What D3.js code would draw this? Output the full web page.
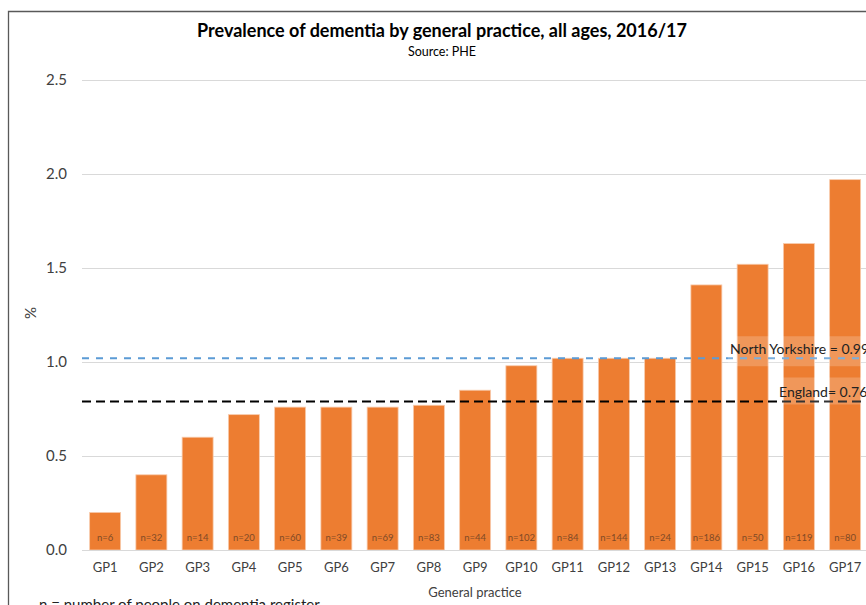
<!DOCTYPE html>
<html>
<head>
<meta charset="utf-8">
<script src="https://cdn.jsdelivr.net/npm/d3@7"></script>
<style>
  html, body { margin: 0; padding: 0; background: #fff; }
  svg { display: block; font-family: Lato, "Open Sans", sans-serif; }
</style>
</head>
<body>
<div id="chart"></div>
<script>
// Chart data.
const practices = ["GP1", "GP2", "GP3", "GP4", "GP5", "GP6", "GP7", "GP8", "GP9",
  "GP10", "GP11", "GP12", "GP13", "GP14", "GP15", "GP16", "GP17"];
const prevalence = [0.20, 0.40, 0.60, 0.72, 0.76, 0.76, 0.76, 0.77, 0.85,
  0.98, 1.02, 1.02, 1.02, 1.41, 1.52, 1.63, 1.97];
const registerCounts = [6, 32, 14, 20, 60, 39, 69, 83, 44, 102, 84, 144, 24, 186, 50, 119, 80];
const yTicks = [0, 0.5, 1.0, 1.5, 2.0, 2.5];

// Reference lines (level = where the line is drawn, label = text shown).
const referenceNames = ["North Yorkshire", "England"];
const referenceLevels = [1.02, 0.79];
const referenceLabels = ["North Yorkshire = 0.99%", "England= 0.76%"];
const referenceColors = ["#5B9BD5", "#000000"];

const width = 866;
const height = 605;
const margin = { top: 80, right: -2, bottom: 55, left: 82 };

const svg = d3.select("#chart")
  .append("svg")
  .attr("width", width)
  .attr("height", height);

// Outer frame (only the top and left edges are visible in the crop).
svg.append("path")
  .attr("d", `M8.5,${height} V11.5 H${width}`)
  .attr("fill", "none")
  .attr("stroke", "#595959")
  .attr("stroke-width", 1.3);

// Title.
svg.append("text")
  .attr("x", 442)
  .attr("y", 37)
  .attr("text-anchor", "middle")
  .style("font-size", "18px")
  .style("font-weight", "bold")
  .style("fill", "#000")
  .text("Prevalence of dementia by general practice, all ages, 2016/17");

svg.append("text")
  .attr("x", 442)
  .attr("y", 56)
  .attr("text-anchor", "middle")
  .style("font-size", "12.5px")
  .style("fill", "#000")
  .text("Source: PHE");

// Scales.
const x = d3.scaleBand()
  .domain(practices)
  .range([margin.left, margin.left + practices.length * 46.25])
  .paddingInner(0.33)
  .paddingOuter(0.165);

const y = d3.scaleLinear()
  .domain([0, 2.5])
  .range([550, 80]);

svg.append("clipPath")
  .attr("id", "plot-clip")
  .append("rect")
  .attr("x", 0)
  .attr("y", 0)
  .attr("width", width)
  .attr("height", height);

const plot = svg.append("g").attr("clip-path", "url(#plot-clip)");

// Gridlines.
plot.append("g")
  .selectAll("line")
  .data(yTicks)
  .join("line")
  .attr("x1", margin.left)
  .attr("x2", width)
  .attr("y1", (d) => Math.round(y(d)) + 0.5)
  .attr("y2", (d) => Math.round(y(d)) + 0.5)
  .attr("stroke", "#d9d9d9")
  .attr("stroke-width", 1);

// Y axis labels.
const yAxis = svg.append("g")
  .attr("transform", `translate(${margin.left},0)`)
  .call(d3.axisLeft(y).tickValues(yTicks).tickFormat(d3.format(".1f")).tickSize(0).tickPadding(15));
yAxis.select(".domain").remove();
yAxis.selectAll("text")
  .style("font-family", "Lato, sans-serif")
  .style("font-size", "15px")
  .style("fill", "#404040");

// Y axis title.
svg.append("text")
  .attr("transform", "translate(36,313) rotate(-90)")
  .attr("text-anchor", "middle")
  .style("font-size", "15px")
  .style("fill", "#404040")
  .text("%");

// Bars.
const bars = prevalence.map((v, i) => ({ practice: practices[i], value: v, n: registerCounts[i] }));

plot.append("g")
  .selectAll("rect")
  .data(bars)
  .join("rect")
  .attr("x", (d) => x(d.practice))
  .attr("y", (d) => y(d.value))
  .attr("width", x.bandwidth())
  .attr("height", (d) => y(0) - y(d.value))
  .attr("fill", "#ED7D31")
  .attr("stroke", "#F8CBAD")
  .attr("stroke-width", 0.8);

// n labels inside bars.
plot.append("g")
  .selectAll("text")
  .data(bars)
  .join("text")
  .attr("x", (d) => x(d.practice) + x.bandwidth() / 2)
  .attr("y", 541)
  .attr("text-anchor", "middle")
  .style("font-size", "9.5px")
  .style("fill", "#7f4a26")
  .text((d) => `n=${d.n}`);

// X axis.
const xAxis = svg.append("g")
  .attr("transform", `translate(0,${y(0)})`)
  .call(d3.axisBottom(x).tickSize(0).tickPadding(13));
xAxis.select(".domain")
  .attr("d", `M${margin.left},0.5H${width}`)
  .attr("stroke", "#d9d9d9");
xAxis.selectAll("text")
  .style("font-family", "Lato, sans-serif")
  .style("font-size", "13px")
  .style("fill", "#404040");

svg.append("text")
  .attr("x", 475)
  .attr("y", 597)
  .attr("text-anchor", "middle")
  .style("font-size", "13px")
  .style("fill", "#404040")
  .text("General practice");

// Reference lines with labels.
const refs = referenceLevels.map((v, i) => ({
  name: referenceNames[i], level: v, label: referenceLabels[i], color: referenceColors[i],
}));

plot.append("g")
  .selectAll("line")
  .data(refs)
  .join("line")
  .attr("x1", margin.left)
  .attr("x2", width)
  .attr("y1", (d) => y(d.level))
  .attr("y2", (d) => y(d.level))
  .attr("stroke", (d) => d.color)
  .attr("stroke-width", 2)
  .attr("stroke-dasharray", (d, i) => (i === 0 ? "7,7" : "9,5"));

const labelX = [730, 779];
const labelGroup = plot.append("g")
  .selectAll("g")
  .data(refs)
  .join("g")
  .attr("transform", (d, i) => `translate(${labelX[i]},${y(d.level)})`);

labelGroup.append("rect")
  .attr("x", -2)
  .attr("y", (d, i) => (i === 0 ? -22 : -24))
  .attr("width", 200)
  .attr("height", (d, i) => (i === 0 ? 30 : 27))
  .attr("fill", "#fff")
  .attr("fill-opacity", 0.2);

labelGroup.append("text")
  .attr("x", 0)
  .attr("y", -4)
  .style("font-size", "14px")
  .style("fill", "#222")
  .text((d) => d.label);

// Footnote, cut off at the bottom of the picture.
svg.append("text")
  .attr("x", 39)
  .attr("y", 610)
  .style("font-size", "15px")
  .style("fill", "#222")
  .text("n = number of people on dementia register");
</script>
</body>
</html>
